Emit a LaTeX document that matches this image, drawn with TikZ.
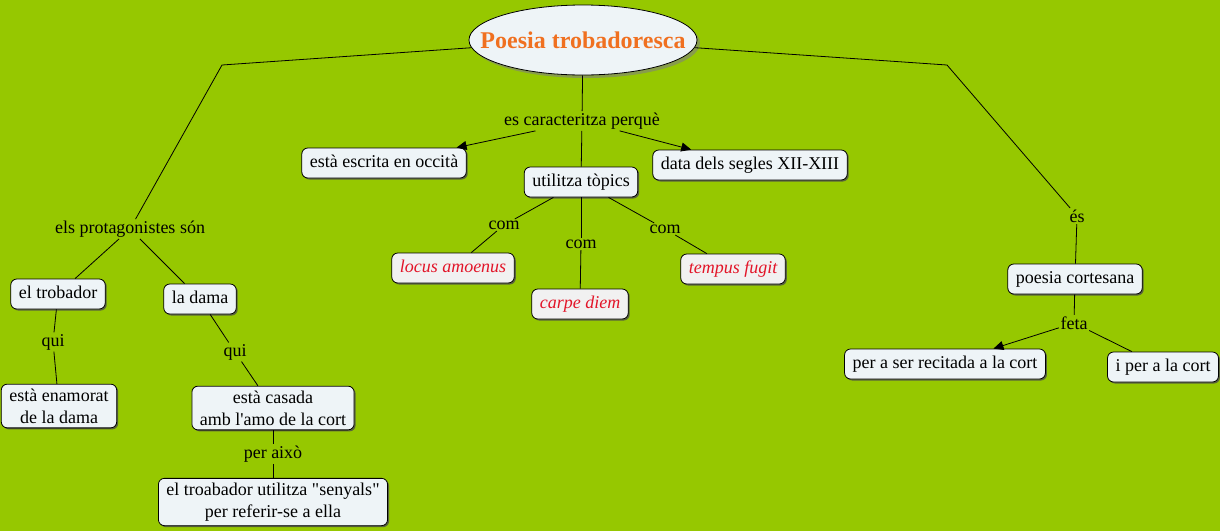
\documentclass[tikz,border=0pt]{standalone}
\usepackage{fontspec}
\setmainfont{Liberation Serif}
\usetikzlibrary{shapes.geometric,arrows.meta,shadows}

\definecolor{mapgreen}{RGB}{150,200,0}
\definecolor{boxfill}{RGB}{238,244,247}
\definecolor{topicfill}{RGB}{241,241,241}
\definecolor{titleorange}{RGB}{240,112,32}
\definecolor{topicred}{RGB}{226,20,40}

\tikzset{
  concept/.style={draw=black,fill=boxfill,rounded corners=6pt,line width=0.8pt,
    inner xsep=8pt,inner ysep=6.5pt,text height=13pt,text depth=4pt,
    font=\fontsize{18}{22}\selectfont,
    drop shadow={shadow xshift=1.5pt,shadow yshift=-1.5pt,fill=black!70,opacity=0.8}},
  twolines/.style={concept,align=center,text height=,text depth=,inner ysep=4.5pt},
  topic/.style={concept,fill=topicfill,text=topicred,font=\fontsize{18}{22}\selectfont\itshape},
  linking/.style={inner sep=1.5pt,font=\fontsize{18}{22}\selectfont},
  conn/.style={line width=0.8pt},
  arr/.style={conn,-{Triangle[length=10pt,width=9pt]}}
}

\begin{document}
\begin{tikzpicture}[x=1pt,y=-1pt]
    \fill[mapgreen] (0,0) rectangle (1220,531);
    \useasboundingbox (0,0) rectangle (1220,531);

    \node[ellipse,draw=black,fill=boxfill,line width=0.8pt,minimum width=228pt,minimum height=70pt,inner sep=0pt,
      drop shadow={shadow xshift=3pt,shadow yshift=-3pt,fill=black!50,opacity=0.6},
      text=titleorange,font=\fontsize{24}{28}\selectfont\bfseries] (root) at (583,40) {\makebox[0pt]{Poesia trobadoresca}};

    % middle branch
    \node[linking] (carac) at (582,121) {es caracteritza perquè};
    \node[concept] (occita) at (384,163) {està escrita en occità};
    \node[concept] (segles) at (750,165) {data dels segles XII-XIII};
    \node[concept] (topics) at (581,182) {utilitza tòpics};
    \node[linking] (com1) at (504,225) {com};
    \node[linking] (com2) at (581,244) {com};
    \node[linking] (com3) at (665,229) {com};
    \node[topic] (locus) at (453,268) {locus amoenus};
    \node[topic] (carpe) at (580,304) {carpe diem};
    \node[topic] (tempus) at (733,269) {tempus fugit};

    % left branch
    \coordinate (lbend) at (222,65);
    \node[linking] (protag) at (130,229) {els protagonistes són};
    \node[concept] (trobador) at (58,294) {el trobador};
    \node[concept] (dama) at (200,299) {la dama};
    \node[linking] (qui1) at (53,342) {qui};
    \node[linking] (qui2) at (235,352) {qui};
    \node[twolines] (enamorat) at (59,406) {està enamorat\\de la dama};
    \node[twolines] (casada) at (273,408) {està casada\\amb l\textquotesingle amo de la cort};
    \node[linking] (perixo) at (273,454) {per això};
    \node[twolines] (senyals) at (273,502) {el troabador utilitza \textquotedbl senyals\textquotedbl\\per referir-se a ella};

    % right branch
    \coordinate (rbend) at (947,65);
    \node[linking] (es) at (1077,216) {és};
    \node[concept] (cortesana) at (1075,279) {poesia cortesana};
    \node[linking] (feta) at (1074,323) {feta};
    \node[concept] (recitada) at (945,364) {per a ser recitada a la cort};
    \node[concept] (cort) at (1163,367) {i per a la cort};

    \draw[conn] (root) -- (lbend) -- (protag);
    \draw[conn] (root) -- (rbend) -- (es);
    \path[conn] (root) edge (carac);
    \path[conn] (carac) edge (topics);
    \path[arr] (carac) edge (occita);
    \path[arr] (carac) edge (segles);
    \path[conn] (topics) edge (com1);
    \path[conn] (com1) edge (locus);
    \path[conn] (topics) edge (com2);
    \path[conn] (com2) edge (carpe);
    \path[conn] (topics) edge (com3);
    \path[conn] (com3) edge (tempus);
    \path[conn] (protag) edge (trobador);
    \path[conn] (protag) edge (dama);
    \path[conn] (trobador) edge (qui1);
    \path[conn] (qui1) edge (enamorat);
    \path[conn] (dama) edge (qui2);
    \path[conn] (qui2) edge (casada);
    \path[conn] (casada) edge (perixo);
    \path[conn] (perixo) edge (senyals);
    \path[conn] (es) edge (cortesana);
    \path[conn] (cortesana) edge (feta);
    \path[arr] (feta) edge (recitada);
    \path[conn] (feta) edge (cort);
\end{tikzpicture}
\end{document}
